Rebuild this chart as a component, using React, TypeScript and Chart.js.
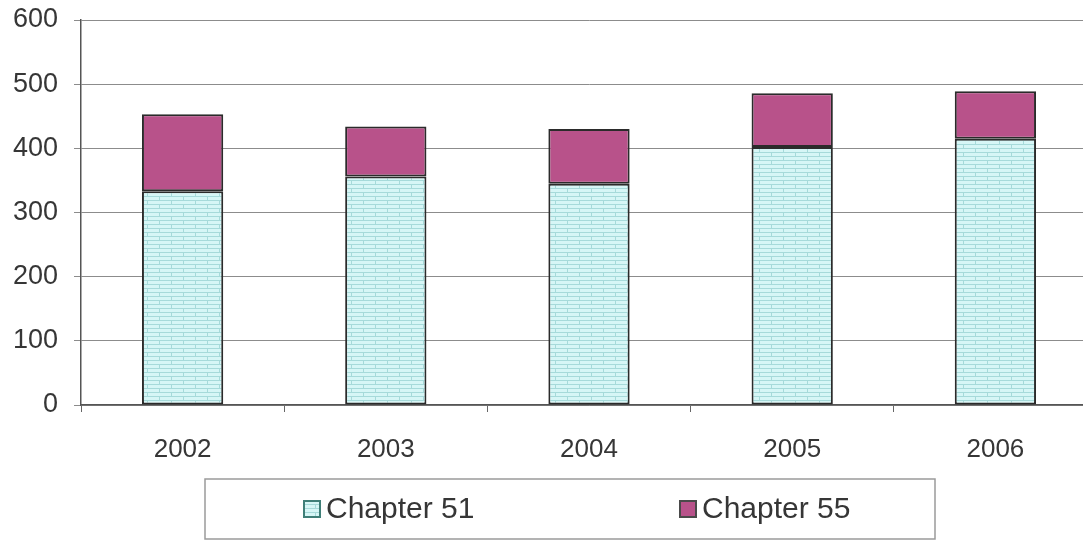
import React, { useEffect, useRef } from "react";
import { Chart, registerables } from "chart.js";

Chart.register(...registerables);

const categories = ["2002", "2003", "2004", "2005", "2006"];
const chapter51 = [333, 356, 345, 402, 415];
const chapter55 = [120, 78, 85, 84, 74];
const seriesLabels = ["Chapter 51", "Chapter 55"];
const yMin = 0;
const yMax = 600;
const yStep = 100;

const FONT = "'Liberation Sans', Arial, sans-serif";
const TEXT = "#363636";

// Light cyan brick texture used for the lower stack segment
function makeBrickPattern(ctx: CanvasRenderingContext2D): CanvasPattern | string {
  const c = document.createElement("canvas");
  c.width = 24;
  c.height = 8;
  const g = c.getContext("2d");
  if (!g) return "#d3f4f4";
  g.fillStyle = "#d6f6f6";
  g.fillRect(0, 0, 24, 8);
  g.strokeStyle = "#a6dada";
  g.lineWidth = 1;
  g.beginPath();
  g.moveTo(0, 0.5);
  g.lineTo(24, 0.5);
  g.moveTo(0, 4.5);
  g.lineTo(24, 4.5);
  g.moveTo(3.5, 0);
  g.lineTo(3.5, 4);
  g.moveTo(15.5, 4);
  g.lineTo(15.5, 8);
  g.stroke();
  return ctx.createPattern(c, "repeat") || "#d3f4f4";
}

// Boxed legend drawn under the category labels
const boxedLegend = {
  id: "boxedLegend",
  afterDraw(chart: any) {
    const ctx = chart.ctx as CanvasRenderingContext2D;
    const box = { x: 205, y: 479, w: 730, h: 60 };
    ctx.save();
    ctx.strokeStyle = "#9a9a9a";
    ctx.lineWidth = 1.5;
    ctx.strokeRect(box.x, box.y, box.w, box.h);
    const itemX = [304, 680];
    const swatchBorders = ["#3f7f78", "#4a4a4a"];
    const cy = box.y + box.h / 2;
    chart.data.datasets.forEach((ds: any, i: number) => {
      const sx = itemX[i];
      const size = 16;
      ctx.fillStyle = ds.backgroundColor;
      ctx.fillRect(sx, cy - size / 2, size, size);
      ctx.strokeStyle = swatchBorders[i];
      ctx.lineWidth = 2;
      ctx.strokeRect(sx, cy - size / 2, size, size);
      ctx.fillStyle = TEXT;
      ctx.font = `30px ${FONT}`;
      ctx.textBaseline = "middle";
      ctx.textAlign = "left";
      ctx.fillText(ds.label, sx + size + 6, cy + 1);
    });
    ctx.restore();
  },
};

export default function App() {
  const canvasRef = useRef<HTMLCanvasElement | null>(null);

  useEffect(() => {
    const canvas = canvasRef.current;
    if (!canvas) return;
    const ctx = canvas.getContext("2d");
    if (!ctx) return;
    const brick = makeBrickPattern(ctx);

    const chart = new Chart(canvas, {
      type: "bar",
      data: {
        labels: categories,
        datasets: [
          {
            label: seriesLabels[0],
            data: chapter51,
            backgroundColor: brick as any,
            borderColor: "#2b2b2b",
            borderWidth: 2,
            borderSkipped: false,
            barPercentage: 0.4,
            categoryPercentage: 1,
          },
          {
            label: seriesLabels[1],
            data: chapter55,
            backgroundColor: "#b8528a",
            borderColor: "#2b2b2b",
            borderWidth: 2,
            borderSkipped: false,
            barPercentage: 0.4,
            categoryPercentage: 1,
          },
        ],
      },
      options: {
        animation: false,
        responsive: true,
        maintainAspectRatio: false,
        layout: { padding: { top: 20, right: 3, bottom: 65, left: 0 } },
        plugins: {
          legend: { display: false },
          tooltip: { enabled: false },
        },
        scales: {
          x: {
            stacked: true,
            grid: {
              display: true,
              drawOnChartArea: false,
              drawTicks: true,
              tickLength: 7,
              color: "#666",
              offset: true,
            },
            border: { display: true, color: "#555", width: 1.5 },
            ticks: {
              color: TEXT,
              font: { family: FONT, size: 26 },
              padding: 22,
              maxRotation: 0,
            },
            afterFit(scale: any) {
              scale.height = 70;
              scale.paddingLeft = 0;
              scale.paddingRight = 0;
            },
          },
          y: {
            stacked: true,
            min: yMin,
            max: yMax,
            grid: {
              color: "#8c8c8c",
              lineWidth: 1,
              tickLength: 7,
              drawTicks: true,
            },
            border: { display: true, color: "#555", width: 1.5 },
            ticks: {
              stepSize: yStep,
              color: TEXT,
              font: { family: FONT, size: 27 },
              padding: 16,
            },
            afterFit(scale: any) {
              scale.width = 81;
              scale.paddingTop = 0;
              scale.paddingBottom = 0;
            },
          },
        },
      },
      plugins: [boxedLegend],
    });

    return () => chart.destroy();
  }, []);

  return (
    <div
      style={{
        position: "fixed",
        left: 0,
        top: 0,
        width: 1083,
        height: 540,
        overflow: "hidden",
        background: "#ffffff",
      }}
    >
      <div style={{ position: "relative", width: 1100, height: 540 }}>
        <canvas ref={canvasRef} />
      </div>
    </div>
  );
}
